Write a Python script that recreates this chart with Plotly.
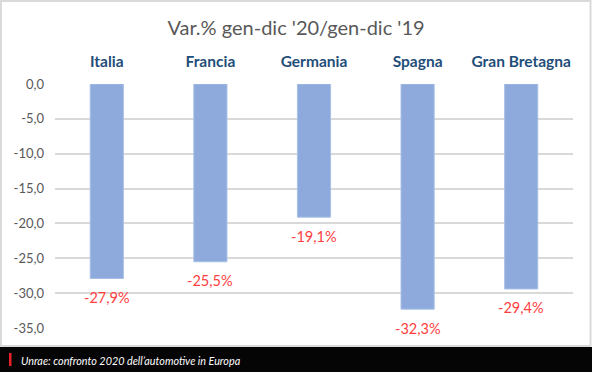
import plotly.graph_objects as go

categories = ["Italia", "Francia", "Germania", "Spagna", "Gran Bretagna"]
values = [-27.9, -25.5, -19.1, -32.3, -29.4]
label_texts = ["-27,9%", "-25,5%", "-19,1%", "-32,3%", "-29,4%"]
y_ticks = [0, -5, -10, -15, -20, -25, -30, -35]
y_tick_labels = ["0,0", "-5,0", "-10,0", "-15,0", "-20,0", "-25,0", "-30,0", "-35,0"]
title_text = "Var.% gen-dic '20/gen-dic '19"
caption_text = "Unrae: confronto 2020 dell’automotive in Europa"

W, H = 592, 374
L, R, T, B = 55, 19, 84, 46
PW, PH = W - L - R, H - T - B

def px(x):
    return (x - L) / PW

def py(y):
    return (H - B - y) / PH

FONT = "Lato"

fig = go.Figure()
fig.add_trace(go.Bar(
    x=categories, y=values, width=0.32,
    marker=dict(color="#8EA9DB", line=dict(color="#A9C0E6", width=1)),
    hoverinfo="skip",
))

for c, v, t in zip(categories, values, label_texts):
    fig.add_annotation(x=c, y=v, text=t, showarrow=False, yanchor="middle",
                       yshift=-19, font=dict(family=FONT, size=14.5, color="#FF4040"))

shapes = [
    dict(type="rect", xref="paper", yref="paper", x0=px(1), x1=px(590.5), y0=py(346), y1=py(1),
         line=dict(color="#DADADA", width=2), fillcolor="rgba(0,0,0,0)", layer="below"),
    dict(type="rect", xref="paper", yref="paper", x0=px(0), x1=px(592), y0=py(372), y1=py(347),
         line=dict(width=0), fillcolor="#050505", layer="above"),
    dict(type="rect", xref="paper", yref="paper", x0=px(9), x1=px(11.5), y0=py(366), y1=py(353),
         line=dict(width=0), fillcolor="#E8202A", layer="above"),
]

fig.add_annotation(xref="paper", yref="paper", x=px(19), y=py(360), xanchor="left", yanchor="middle",
                   text="<i>" + caption_text + "</i>", showarrow=False,
                   font=dict(family=FONT, size=10.8, color="white"))

fig.update_layout(
    width=W, height=H,
    margin=dict(l=L, r=R, t=T, b=B, pad=0),
    paper_bgcolor="white", plot_bgcolor="white",
    showlegend=False,
    shapes=shapes,
    title=dict(text=title_text, x=0.5, xref="container", xanchor="center",
               y=(H - 28) / H, yref="container", yanchor="middle",
               font=dict(family=FONT, size=20, color="#595959")),
    xaxis=dict(side="top", showgrid=False, showline=False, zeroline=False,
               ticks="", tickfont=dict(family=FONT, size=15.5, color="#1F4E79", weight="bold"),
               ticklabelstandoff=13, fixedrange=True),
    yaxis=dict(range=[-35, 0], tickvals=y_ticks, ticktext=y_tick_labels,
               showgrid=True, gridcolor="#D9D9D9", gridwidth=1.5,
               zeroline=False, showline=False, ticks="",
               tickfont=dict(family=FONT, size=13, color="#595959"),
               ticklabelstandoff=10, fixedrange=True),
)

fig.write_html("out.html", config={"displayModeBar": False},
               post_script="document.body.style.margin='0';document.body.style.padding='0';")
